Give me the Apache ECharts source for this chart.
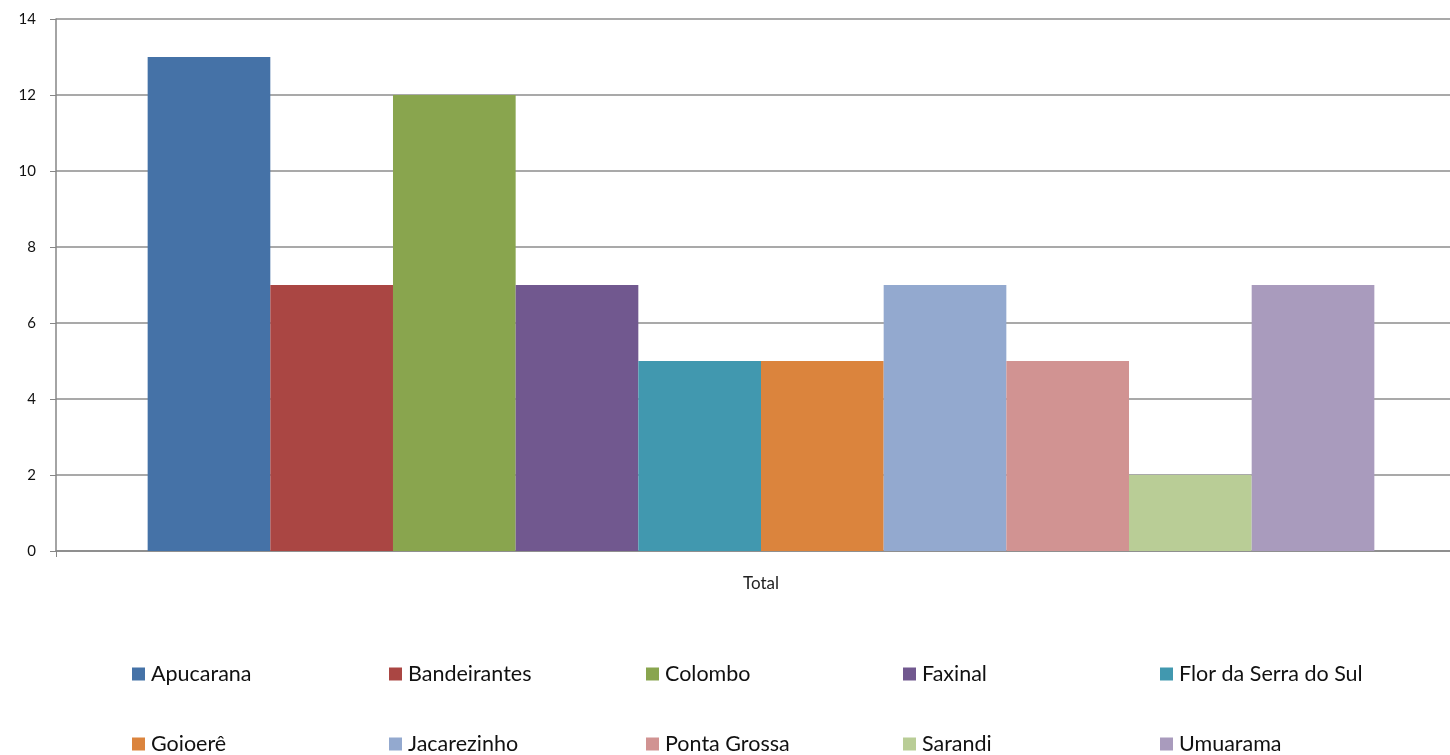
<!DOCTYPE html>
<html><head><meta charset="utf-8">
<script src="https://cdn.jsdelivr.net/npm/echarts@6/dist/echarts.min.js"></script>
<style>html,body{margin:0;padding:0;background:#fff}#c{width:1450px;height:755px}</style>
</head><body><div id="c"></div>
<script>
const categories = ['Total'];
const seriesNames = ['Apucarana','Bandeirantes','Colombo','Faxinal','Flor da Serra do Sul','Goioerê','Jacarezinho','Ponta Grossa','Sarandi','Umuarama'];
const seriesValues = [13, 7, 12, 7, 5, 5, 7, 5, 2, 7];
const colors = ['#4572A7','#AA4643','#89A54E','#71588F','#4198AF','#DB843D','#93A9CF','#D19392','#B9CD96','#A99BBD'];
const yTicks = [0, 2, 4, 6, 8, 10, 12, 14];

const font = 'Lato, "Open Sans", sans-serif';
const legendPos = [];
for (let i = 0; i < seriesNames.length; i++) {
  legendPos.push({left: 132 + (i % 5) * 257, top: i < 5 ? 663 : 733});
}
const option = {
  animation: false,
  color: colors,
  grid: {left: 56, width: 1410, top: 19, bottom: 204, containLabel: false, outerBoundsMode: 'none'},
  xAxis: {
    type: 'category', data: categories,
    axisLine: {lineStyle: {color: '#868686', width: 1.5}},
    axisTick: {show: true, length: 6, lineStyle: {color: '#868686'}},
    axisLabel: {color: '#222', fontSize: 17, fontFamily: font, margin: 24}
  },
  yAxis: {
    type: 'value', min: yTicks[0], max: yTicks[yTicks.length - 1], interval: 2,
    axisLine: {show: true, lineStyle: {color: '#868686', width: 1.5}},
    axisTick: {show: true, length: 6, lineStyle: {color: '#868686'}},
    axisLabel: {color: '#111', fontSize: 15, fontFamily: font, margin: 20},
    splitLine: {lineStyle: {color: '#8c8c8c', width: 1.5}}
  },
  legend: seriesNames.map((n, i) => ({
    data: [n], left: legendPos[i].left, top: legendPos[i].top, padding: 0,
    icon: 'rect', itemWidth: 13, itemHeight: 13, itemGap: 0,
    textStyle: {fontSize: 21.5, fontFamily: font, color: '#111', padding: [0, 0, 0, 1]}
  })),
  series: seriesNames.map((n, i) => ({
    name: n, type: 'bar', data: [seriesValues[i]],
    barGap: '0%', barCategoryGap: '13%'
  }))
};
echarts.init(document.getElementById('c')).setOption(option);
</script></body></html>
